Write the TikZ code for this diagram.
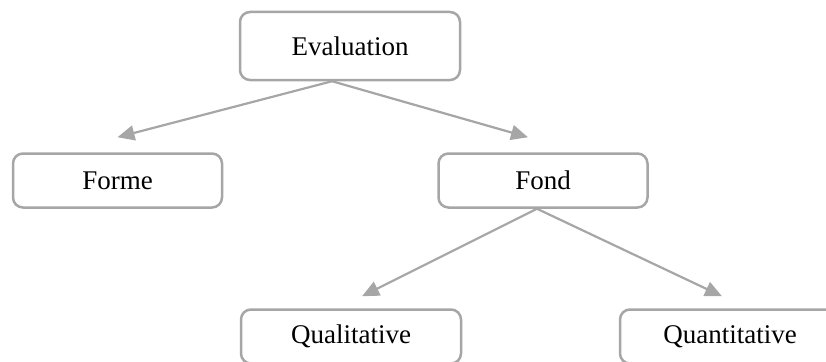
\documentclass[tikz,border=0pt]{standalone}
\usepackage{fontspec}
\setmainfont{Liberation Serif}
\usetikzlibrary{arrows.meta, positioning}
\definecolor{boxgray}{RGB}{166,166,166}

\begin{document}
\begin{tikzpicture}[x=1pt, y=-1pt,
        box/.style={rectangle, draw=boxgray, line width=2.5pt, rounded corners=10pt, minimum width=220pt, minimum height=54pt, font=\fontsize{27}{32}\selectfont},
        arrow/.style={-{Triangle[length=17pt, width=15pt]}, draw=boxgray, line width=2.2pt}]

    \useasboundingbox (0,0) rectangle (826,361);

    \node (eval) [box, minimum height=68pt] at (350,46) {Evaluation};
    \node (forme) [box, minimum width=209pt] at (117.5,180.5) {Forme};
    \node (fond) [box, minimum width=209pt] at (543,180.5) {Fond};
    \node (quali) [box] at (351,336.5) {Qualitative};
    \node (quanti) [box] at (730,336.5) {Quantitative};

    \draw [arrow] ([xshift=-18pt]eval.south) -- ([yshift=15pt]forme.north);
    \draw [arrow] ([xshift=-18pt]eval.south) -- ([xshift=-15pt, yshift=15pt]fond.north);
    \draw [arrow] ([xshift=-6pt]fond.south) -- ([xshift=11pt, yshift=12pt]quali.north);
    \draw [arrow] ([xshift=-6pt]fond.south) -- ([xshift=-8pt, yshift=12pt]quanti.north);
\end{tikzpicture}
\end{document}
